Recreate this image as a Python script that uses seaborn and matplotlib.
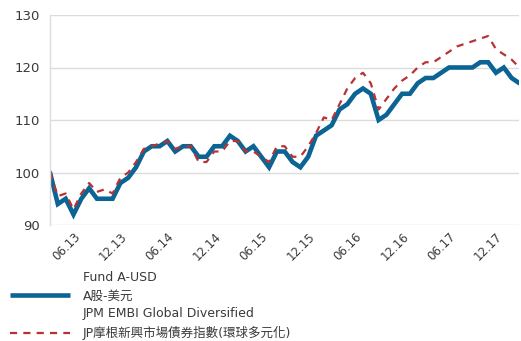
import numpy as np
import pandas as pd
import matplotlib
matplotlib.use("Agg")
import matplotlib.pyplot as plt
from matplotlib.lines import Line2D
import seaborn as sns

# ---- data (monthly, rebased to 100) ----
start_month = "2013-03"
fund = [100, 94, 95, 92, 95, 97, 95, 95, 95, 98, 99, 101,
        104, 105, 105, 106, 104, 105, 105, 103, 103, 105, 105, 107,
        106, 104, 105, 103, 101, 104, 104, 102, 101, 103, 107, 108,
        109, 112, 113, 115, 116, 115, 110, 111, 113, 115, 115, 117,
        118, 118, 119, 120, 120, 120, 120, 121, 121, 119, 120, 118,
        117]
index = [100, 95.5, 96, 93, 96, 98, 96.3, 96.8, 96, 99, 100, 102,
         104.5, 105, 105.5, 106, 104.5, 105, 105, 102, 102, 104, 104, 106,
         106, 104, 104, 103, 102, 105, 105, 103, 103, 105, 107.5, 110.5,
         110, 113, 116, 118, 119, 117, 112, 114, 116, 117.5, 118.5, 120,
         121, 121, 122, 123, 124, 124.5, 125, 125.5, 126, 123.5, 122.5, 121.5,
         120]
tick_labels = ["06.13", "12.13", "06.14", "12.14", "06.15",
               "12.15", "06.16", "12.16", "06.17", "12.17"]
y_ticks = [90, 100, 110, 120, 130]
fund_label = ["Fund A-USD", "A股-美元"]
index_label = ["JPM EMBI Global Diversified", "JP摩根新興市場債券指數(環球多元化)"]

months = list(pd.date_range(start_month, periods=len(fund), freq="MS").strftime("%m.%y"))
df = pd.DataFrame({"t": np.arange(len(fund)), "fund": fund, "index": index})

sns.set_theme(style="white")
plt.rcParams["font.family"] = ["DejaVu Sans", "Noto Sans CJK TC"]

BLUE = "#0b6493"
RED = "#b83233"
TXT = "#3a3a3a"

fig = plt.figure(figsize=(5.21, 3.41), dpi=100)
ax = fig.add_axes([50 / 521, 1 - 225 / 341, 1 - 50 / 521 - 0.003, 210 / 341])

sns.lineplot(data=df, x="t", y="fund", ax=ax, color=BLUE, lw=3.3,
             solid_joinstyle="miter")
sns.lineplot(data=df, x="t", y="index", ax=ax, color=RED, lw=1.6)
ax.lines[1].set_dashes([3.2, 2.8])

ax.set_xlim(0, len(fund) - 1)
ax.set_ylim(90, 130)
ax.set_yticks(y_ticks)
ax.set_yticklabels([str(v) for v in y_ticks])
ax.set_xticks([months.index(m) for m in tick_labels])
ax.set_xlabel("")
ax.set_ylabel("")

ax.tick_params(axis="y", length=0, pad=7, labelsize=9.5, labelcolor=TXT)
ax.tick_params(axis="x", length=0, pad=4, labelsize=8.5, labelcolor=TXT)
ax.set_xticklabels(tick_labels, rotation=45, ha="right", rotation_mode="anchor")

ax.grid(axis="y", color="#dcdcdc", lw=1)
ax.grid(axis="x", visible=False)
for s in ["top", "right", "bottom"]:
    ax.spines[s].set_visible(False)
ax.spines["left"].set_color("#dcdcdc")
ax.spines["left"].set_linewidth(1)

blank = Line2D([], [], color="none")
h_fund = Line2D([], [], color=BLUE, lw=3.3, solid_capstyle="butt")
h_idx = Line2D([], [], color=RED, lw=1.6, dashes=[3.2, 2.8])
handles = [blank, h_fund, blank, h_idx]
labels = [fund_label[0], fund_label[1], index_label[0], index_label[1]]
leg = fig.legend(handles, labels, loc="upper left",
                 bbox_to_anchor=(10 / 521, 1 - 271 / 341),
                 frameon=False, fontsize=9, handlelength=4.8, handletextpad=1.05,
                 labelspacing=0.42, borderaxespad=0, borderpad=0)
for t in leg.get_texts():
    t.set_color(TXT)

fig.savefig("out.png", dpi=100)
